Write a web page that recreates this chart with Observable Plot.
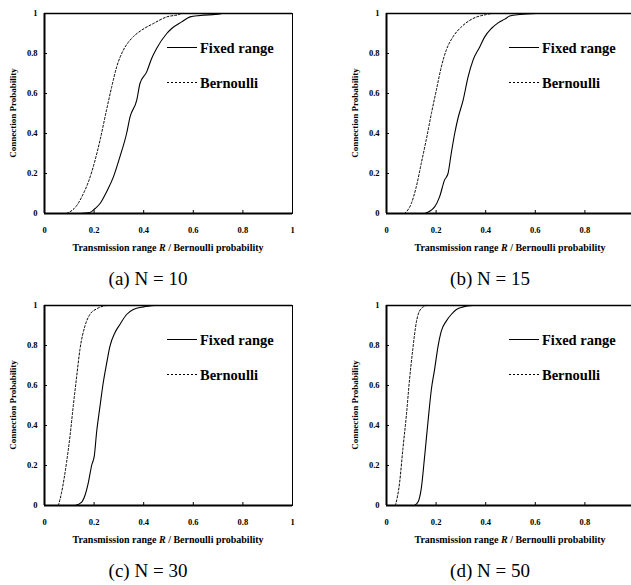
<!DOCTYPE html>
<html>
<head>
<meta charset="utf-8">
<script src="https://cdn.jsdelivr.net/npm/d3@7"></script>
<script src="https://cdn.jsdelivr.net/npm/@observablehq/plot@0.6"></script>
<style>
  html, body { margin: 0; padding: 0; background: #fff; }
  #wrap { position: relative; width: 631px; height: 585px; overflow: hidden; background: #fff;
          font-family: "Liberation Serif", "Times New Roman", serif; color: #000; }
  .panel { position: absolute; width: 316px; height: 300px; }
  .panel svg.plot { position: absolute; left: 0; top: 0; }
  .ytitle { position: absolute; left: 13px; top: 113px; transform: translate(-50%, -50%) rotate(-90deg);
            font-size: 9px; font-weight: bold; white-space: nowrap; }
  .xtitle { position: absolute; left: 168px; top: 247px; transform: translate(-50%, -50%);
            font-size: 10px; font-weight: bold; white-space: nowrap; }
  .caption { position: absolute; left: 148px; top: 279px; transform: translate(-50%, -50%);
             font-size: 19px; white-space: nowrap; }
  .legend { position: absolute; left: 0; top: 0; overflow: visible; }
</style>
</head>
<body>
<div id="wrap"></div>
<script>
// ---------- data ----------
const xTicks = [0, 0.2, 0.4, 0.6, 0.8, 1];
const xTickLabels = ["0", "0.2", "0.4", "0.6", "0.8", "1"];
// right-column panels are cut at the page edge: their "1" label is not visible
const xTicksCut = [0, 0.2, 0.4, 0.6, 0.8];
const yTicks = [0, 0.2, 0.4, 0.6, 0.8, 1];
const yTickLabels = ["0", "0.2", "0.4", "0.6", "0.8", "1"];
const seriesNames = ["Fixed range", "Bernoulli"];
const captions = ["(a) N = 10", "(b) N = 15", "(c) N = 30", "(d) N = 50"];
const yTitle = "Connection Probability";

// [x, probability]
const fixedN10 = [[0.143,0],[0.183,0.005],[0.204,0.025],[0.224,0.05],[0.25,0.108],[0.278,0.183],[0.304,0.283],[0.331,0.4],[0.345,0.483],[0.372,0.567],[0.385,0.65],[0.412,0.708],[0.432,0.775],[0.452,0.825],[0.493,0.9],[0.513,0.925],[0.553,0.958],[0.587,0.983],[0.627,0.99],[0.708,0.998],[0.714,1]];
const bernN10 = [[0.089,0],[0.13,0.04],[0.157,0.1],[0.177,0.158],[0.204,0.267],[0.224,0.367],[0.25,0.517],[0.271,0.633],[0.291,0.733],[0.318,0.817],[0.351,0.875],[0.392,0.917],[0.439,0.95],[0.493,0.983],[0.546,0.997],[0.55,1]];

const fixedN15 = [[0.154,0],[0.194,0.033],[0.214,0.083],[0.234,0.167],[0.248,0.2],[0.261,0.3],[0.275,0.4],[0.288,0.475],[0.309,0.567],[0.329,0.683],[0.349,0.767],[0.376,0.833],[0.396,0.883],[0.423,0.925],[0.45,0.953],[0.477,0.972],[0.497,0.987],[0.538,0.995],[0.605,1]];
const bernN15 = [[0.073,0],[0.1,0.05],[0.12,0.133],[0.14,0.25],[0.16,0.367],[0.181,0.5],[0.201,0.617],[0.221,0.733],[0.241,0.817],[0.268,0.883],[0.302,0.933],[0.349,0.975],[0.403,0.995],[0.423,1]];

const fixedN30 = [[0.123,0],[0.15,0.017],[0.163,0.05],[0.177,0.116],[0.19,0.2],[0.201,0.249],[0.21,0.365],[0.224,0.498],[0.237,0.615],[0.251,0.714],[0.264,0.797],[0.284,0.864],[0.304,0.905],[0.331,0.955],[0.358,0.98],[0.399,0.993],[0.446,1]];
const bernN30 = [[0.056,0],[0.069,0.066],[0.089,0.216],[0.103,0.349],[0.116,0.498],[0.13,0.648],[0.143,0.781],[0.163,0.897],[0.183,0.955],[0.21,0.983],[0.237,0.997],[0.251,1]];

const fixedN50 = [[0.113,0],[0.127,0.017],[0.14,0.083],[0.154,0.249],[0.167,0.415],[0.181,0.581],[0.194,0.681],[0.208,0.797],[0.221,0.872],[0.241,0.922],[0.261,0.955],[0.282,0.98],[0.309,0.993],[0.349,1]];
const bernN50 = [[0.036,0],[0.053,0.116],[0.066,0.282],[0.08,0.449],[0.093,0.631],[0.106,0.781],[0.12,0.914],[0.133,0.972],[0.154,0.997],[0.16,1]];

const fixedSeries = [fixedN10, fixedN15, fixedN30, fixedN50];
const bernSeries = [bernN10, bernN15, bernN30, bernN50];

// ---------- layout ----------
const panelPos = [[0, 0], [342, 0], [0, 292], [342, 292]];
const wrap = document.getElementById("wrap");
const serif = "'Liberation Serif', 'Times New Roman', serif";

captions.forEach((cap, i) => {
  const panel = document.createElement("div");
  panel.className = "panel";
  panel.style.left = panelPos[i][0] + "px";
  panel.style.top = panelPos[i][1] + "px";
  const ticksX = (i % 2 === 1) ? xTicksCut : xTicks;

  const chart = Plot.plot({
    width: 316,
    height: 240,
    marginLeft: 44,
    marginRight: 24,
    marginTop: 13,
    marginBottom: 27,
    x: {domain: [0, 1]},
    y: {domain: [0, 1]},
    style: {fontFamily: serif, fontSize: "8.5px", fontWeight: "bold", color: "#000", background: "transparent", overflow: "visible"},
    marks: [
      Plot.frame({stroke: "#000", strokeWidth: 1}),
      Plot.line(bernSeries[i], {x: d => d[0], y: d => d[1], stroke: "#000", strokeWidth: 1, strokeDasharray: "2,2", curve: "monotone-x"}),
      Plot.line(fixedSeries[i], {x: d => d[0], y: d => d[1], stroke: "#000", strokeWidth: 1.1, curve: "monotone-x"}),
      Plot.ruleX([0], {stroke: "#000", strokeWidth: 2}),
      Plot.ruleY([0], {stroke: "#000", strokeWidth: 2}),
      Plot.ruleY([1], {stroke: "#000", strokeWidth: 1.6}),
      Plot.axisX({ticks: ticksX, tickSize: -3, tickPadding: 16, label: null,
                  tickFormat: d => xTickLabels[xTicks.indexOf(d)]}),
      Plot.axisY({ticks: yTicks, tickSize: -3, tickPadding: 10, label: null,
                  tickFormat: d => yTickLabels[yTicks.indexOf(d)]})
    ]
  });
  chart.classList.add("plot");
  panel.appendChild(chart);

  // legend
  const ns = "http://www.w3.org/2000/svg";
  const leg = document.createElementNS(ns, "svg");
  leg.setAttribute("class", "legend");
  leg.setAttribute("width", 316);
  leg.setAttribute("height", 240);
  const legY = [47.5, 82.5];
  seriesNames.forEach((name, k) => {
    const ln = document.createElementNS(ns, "line");
    ln.setAttribute("x1", 167); ln.setAttribute("x2", 197);
    ln.setAttribute("y1", legY[k]); ln.setAttribute("y2", legY[k]);
    ln.setAttribute("stroke", "#000");
    ln.setAttribute("stroke-width", 1);
    if (k === 1) ln.setAttribute("stroke-dasharray", "2,2");
    leg.appendChild(ln);
    const t = document.createElementNS(ns, "text");
    t.setAttribute("x", 200);
    t.setAttribute("y", legY[k]);
    t.setAttribute("dy", "0.35em");
    t.setAttribute("font-family", serif);
    t.setAttribute("font-size", "14.5px");
    t.setAttribute("font-weight", "bold");
    t.textContent = name;
    leg.appendChild(t);
  });
  panel.appendChild(leg);

  const yt = document.createElement("div");
  yt.className = "ytitle";
  yt.textContent = yTitle;
  panel.appendChild(yt);

  const xt = document.createElement("div");
  xt.className = "xtitle";
  xt.innerHTML = "Transmission range <i>R</i> / Bernoulli probability";
  panel.appendChild(xt);

  const c = document.createElement("div");
  c.className = "caption";
  c.textContent = cap;
  panel.appendChild(c);

  wrap.appendChild(panel);
});
</script>
</body>
</html>
